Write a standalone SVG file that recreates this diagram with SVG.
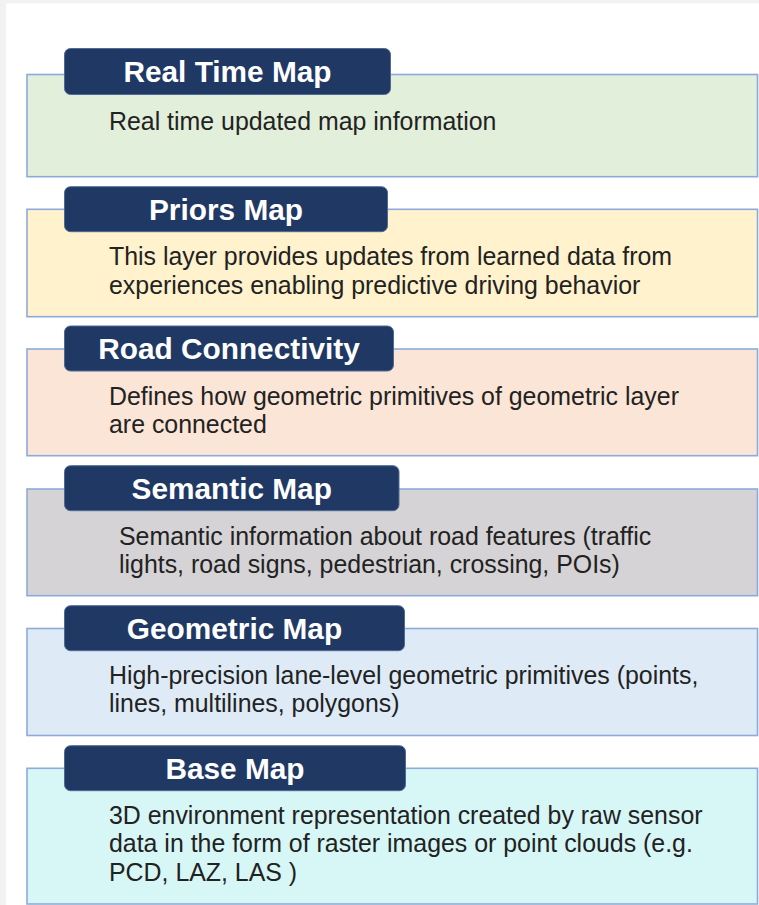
<svg xmlns="http://www.w3.org/2000/svg" width="759" height="905" viewBox="0 0 759 905">
<style>
.layer{stroke:#8eaadb;stroke-width:1.6}
.hdr{fill:#203864;stroke:#4f6a96;stroke-width:1}
.ht{font-family:"Liberation Sans",Arial,sans-serif;font-weight:bold;font-size:29.8px;fill:#ffffff;text-anchor:middle}
.bt{font-family:"Liberation Sans",Arial,sans-serif;font-size:24.9px;fill:#222222}
</style>
<rect x="0" y="0" width="759" height="905" fill="#f2f2f2"/>
<rect x="6" y="3.5" width="753" height="901.5" fill="#ffffff"/>
<g id="real-time-map">
<rect class="layer" x="27" y="74.5" width="730.5" height="102.2" fill="#e2efda"/>
<rect class="hdr" x="64.5" y="48.5" width="326" height="46" rx="6"/>
<text class="ht" x="227.5" y="82">Real Time Map</text>
<text class="bt" x="109" y="129.5">Real time updated map information</text>
</g>
<g id="priors-map">
<rect class="layer" x="27" y="209.3" width="730.5" height="107.4" fill="#fff2cc"/>
<rect class="hdr" x="64.5" y="186.7" width="323" height="45" rx="6"/>
<text class="ht" x="226" y="220">Priors Map</text>
<text class="bt" x="109" y="265">This layer provides updates from learned data from</text>
<text class="bt" x="109" y="293.5">experiences enabling predictive driving behavior</text>
</g>
<g id="road-connectivity">
<rect class="layer" x="27" y="349" width="730.5" height="106.7" fill="#fbe5d6"/>
<rect class="hdr" x="64.5" y="326" width="329" height="45" rx="6"/>
<text class="ht" x="229" y="359.3">Road Connectivity</text>
<text class="bt" x="109" y="404.5">Defines how geometric primitives of geometric layer</text>
<text class="bt" x="109" y="433">are connected</text>
</g>
<g id="semantic-map">
<rect class="layer" x="27" y="489" width="730.5" height="106.7" fill="#d5d3d5"/>
<rect class="hdr" x="64.5" y="465.7" width="334.5" height="45" rx="6"/>
<text class="ht" x="231.7" y="499">Semantic Map</text>
<text class="bt" x="119" y="544.5">Semantic information about road features (traffic</text>
<text class="bt" x="119" y="573">lights, road signs, pedestrian, crossing, POIs)</text>
</g>
<g id="geometric-map">
<rect class="layer" x="27" y="628.5" width="730.5" height="107" fill="#deebf7"/>
<rect class="hdr" x="64.5" y="605.7" width="340" height="45" rx="6"/>
<text class="ht" x="234.5" y="639">Geometric Map</text>
<text class="bt" x="109" y="683.5">High-precision lane-level geometric primitives (points,</text>
<text class="bt" x="109" y="712">lines, multilines, polygons)</text>
</g>
<g id="base-map">
<rect class="layer" x="27" y="768.3" width="730.5" height="135.7" fill="#d7f6f6"/>
<rect class="hdr" x="64.5" y="745.7" width="341" height="45" rx="6"/>
<text class="ht" x="235" y="779">Base Map</text>
<text class="bt" x="109" y="823.5">3D environment representation created by raw sensor</text>
<text class="bt" x="109" y="852">data in the form of raster images or point clouds (e.g.</text>
<text class="bt" x="109" y="880.5">PCD, LAZ, LAS )</text>
</g>
<g id="connectors"></g>
</svg>
